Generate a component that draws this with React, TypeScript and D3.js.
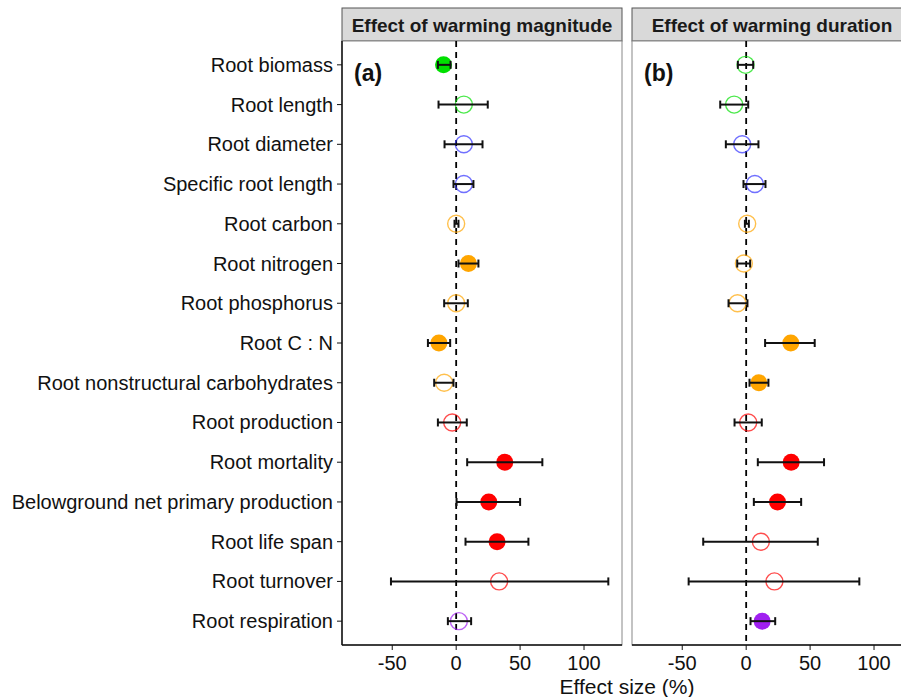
import React from 'react';
import * as d3 from 'd3';

// Root traits, top to bottom
const traits = [
  'Root biomass', 'Root length', 'Root diameter', 'Specific root length',
  'Root carbon', 'Root nitrogen', 'Root phosphorus', 'Root C : N',
  'Root nonstructural carbohydrates', 'Root production', 'Root mortality',
  'Belowground net primary production', 'Root life span', 'Root turnover',
  'Root respiration',
];
const traitGroup = [
  'green', 'green', 'blue', 'blue', 'orange', 'orange', 'orange', 'orange',
  'orange', 'red', 'red', 'red', 'red', 'red', 'purple',
];

// Effect of warming magnitude (a)
const magMean = [-9.9, 6, 6, 6, 0, 9.6, 0, -13.5, -9.4, -3.1, 38, 25.5, 32, 33.6, 2.1];
const magLow = [-14.3, -13.8, -9.1, -2.1, -1.3, 1.8, -9.4, -22.1, -17.2, -14.3, 8.6, 0.3, 7.3, -51, -6.5];
const magHigh = [-4.4, 24.7, 20.6, 13.5, 1.8, 17.4, 9.1, -4.7, -2.1, 8.3, 67.4, 50, 56.5, 119, 11.7];
const magSig = [true, false, false, false, false, true, false, true, false, false, true, true, true, false, false];

// Effect of warming duration (b)
const durMean = [-0.5, -9.4, -3.1, 6.8, 0.8, -1.8, -6.8, 34.9, 9.9, 1.6, 35.2, 24.5, 11.5, 22.1, 12.5];
const durLow = [-6.5, -20.3, -15.9, -2.1, -1, -7, -13.8, 14.8, 2.6, -9.1, 9.1, 6, -33.6, -45, 3.4];
const durHigh = [5.5, 1.6, 9.6, 15.1, 2.1, 3.1, 1, 53.6, 17.4, 12.2, 60.9, 43, 56, 88.5, 22.7];
const durSig = [false, false, false, false, false, false, false, true, true, false, true, true, false, false, true];

const xTicks = [-50, 0, 50, 100];

const groupColor: Record<string, string> = {
  green: '#00e000',
  blue: '#3333ff',
  orange: '#ffa500',
  red: '#ff0000',
  purple: '#a020f0',
};

const font = '"Liberation Sans", Arial, sans-serif';
const W = 901;
const H = 697;
const top = 41;
const bottom = 645;
const panelW = 280;

const y = d3.scalePoint<string>().domain(traits).range([top, bottom]).padding(0.6);

const Panel = ({ x0, title, tag, mean, low, high, sig, showY }: any) => {
  const x = d3.scaleLinear().domain([-89.3, 129.7]).range([x0, x0 + panelW]);
  return (
    <g>
      <rect x={x0} y={8} width={panelW} height={top - 8} fill="#d9d9d9" stroke="#555" strokeWidth={1} />
      <text x={x0 + panelW / 2} y={32} textAnchor="middle" fontSize={19} fontWeight="bold" fill="#1a1a1a">{title}</text>
      <rect x={x0} y={top} width={panelW} height={bottom - top} fill="#fff" stroke="#888" strokeWidth={1} />
      <line x1={x(0)} x2={x(0)} y1={top} y2={bottom} stroke="#000" strokeWidth={1.8} strokeDasharray="6,5" />
      <text x={x0 + 12} y={81} fontSize={23} fontWeight="bold" fill="#111">{tag}</text>
      {traits.map((t, i) => {
        const cy = y(t)!;
        const c = groupColor[traitGroup[i]];
        return (
          <g key={t}>
            <circle cx={x(mean[i])} cy={cy} r={8.5}
              fill={sig[i] ? c : 'none'} stroke={c} strokeWidth={sig[i] ? 0 : 1.4}
              strokeOpacity={0.7} />
            <line x1={x(low[i])} x2={x(high[i])} y1={cy} y2={cy} stroke="#111" strokeWidth={2} />
            <line x1={x(low[i])} x2={x(low[i])} y1={cy - 4} y2={cy + 4} stroke="#111" strokeWidth={2} />
            <line x1={x(high[i])} x2={x(high[i])} y1={cy - 4} y2={cy + 4} stroke="#111" strokeWidth={2} />
          </g>
        );
      })}
      {/* axis lines */}
      <line x1={x0} x2={x0 + panelW} y1={bottom} y2={bottom} stroke="#111" strokeWidth={1.5} />
      {showY && <line x1={x0} x2={x0} y1={top} y2={bottom} stroke="#111" strokeWidth={1.5} />}
      {xTicks.map((v) => (
        <g key={v}>
          <line x1={x(v)} x2={x(v)} y1={bottom} y2={bottom + 5} stroke="#111" strokeWidth={1} />
          <text x={x(v)} y={670} textAnchor="middle" fontSize={20} fill="#111">{v}</text>
        </g>
      ))}
      {showY && traits.map((t) => (
        <g key={t}>
          <line x1={x0 - 5} x2={x0} y1={y(t)!} y2={y(t)!} stroke="#111" strokeWidth={1} />
          <text x={x0 - 9} y={y(t)! + 7} textAnchor="end" fontSize={20} fill="#111">{t}</text>
        </g>
      ))}
    </g>
  );
};

export default function App() {
  return (
    <svg width={W} height={H} style={{ position: 'absolute', left: 0, top: 0, fontFamily: font }}>
      <rect width={W} height={H} fill="#fff" />
      <Panel x0={342} title="Effect of warming magnitude" tag="(a)"
        mean={magMean} low={magLow} high={magHigh} sig={magSig} showY />
      <Panel x0={632} title="Effect of warming duration" tag="(b)"
        mean={durMean} low={durLow} high={durHigh} sig={durSig} showY={false} />
      <text x={627} y={694} textAnchor="middle" fontSize={21} fill="#111">Effect size (%)</text>
    </svg>
  );
}
